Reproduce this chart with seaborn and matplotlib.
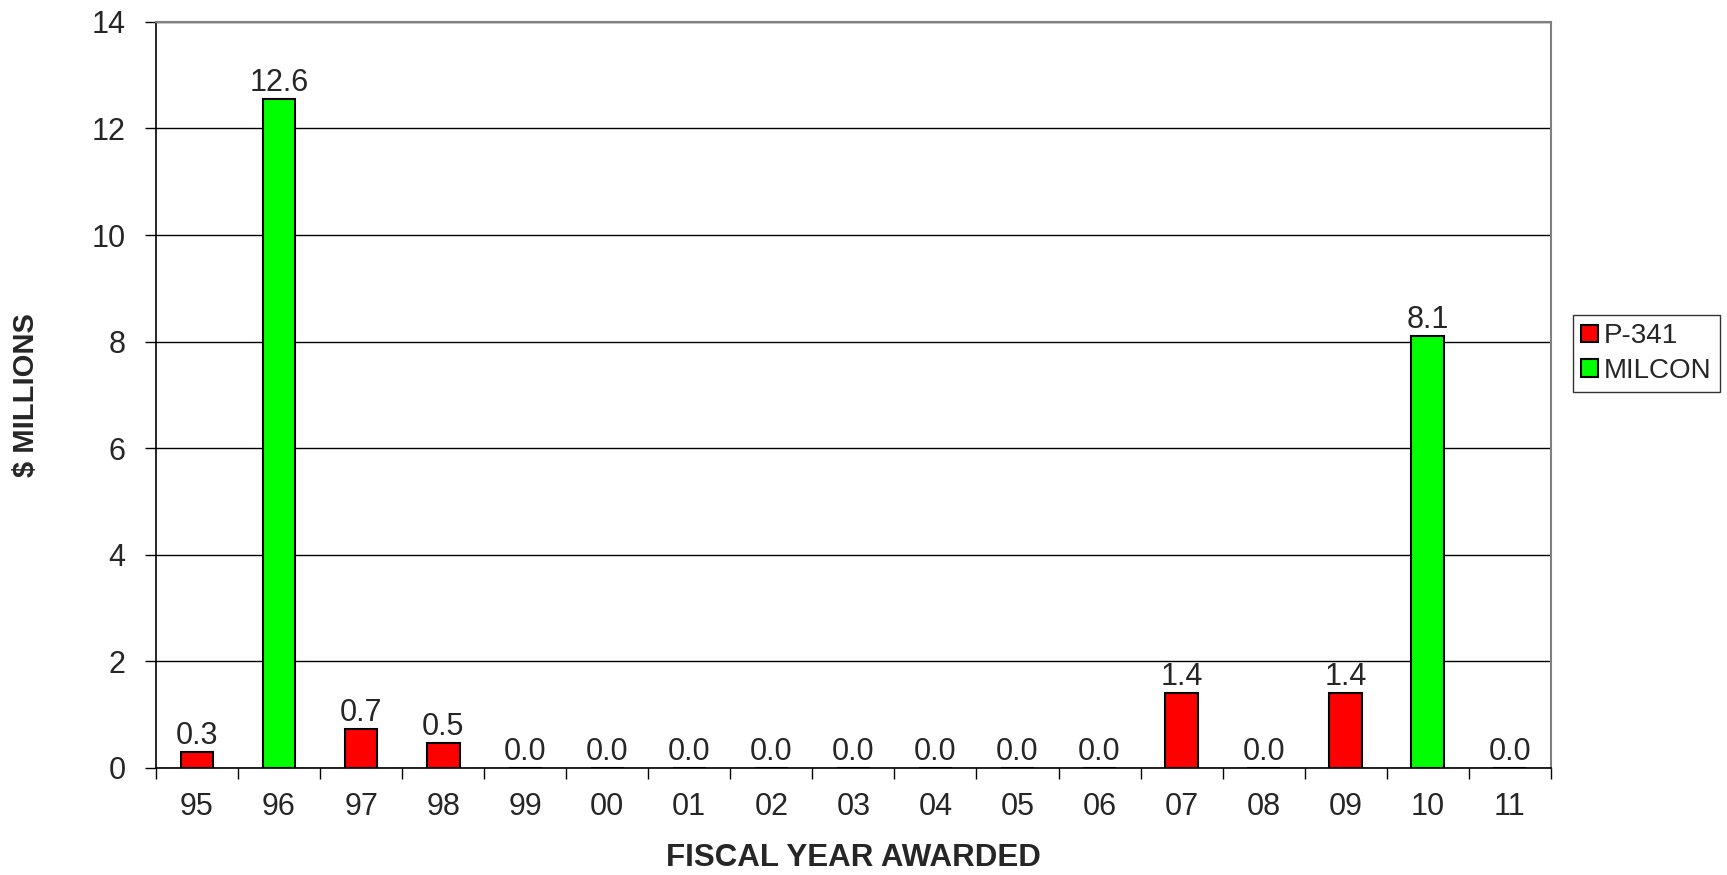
import numpy as np
import pandas as pd
import matplotlib
matplotlib.use("Agg")
import matplotlib.pyplot as plt
import seaborn as sns

years = ["95", "96", "97", "98", "99", "00", "01", "02", "03", "04",
         "05", "06", "07", "08", "09", "10", "11"]
values = [0.30, 12.55, 0.73, 0.47, 0.0, 0.0, 0.0, 0.0, 0.0, 0.0,
          0.0, 0.0, 1.40, 0.0, 1.40, 8.10, 0.0]
series = ["P-341", "MILCON", "P-341", "P-341", "P-341", "P-341", "P-341",
          "P-341", "P-341", "P-341", "P-341", "P-341", "P-341", "P-341",
          "P-341", "MILCON", "P-341"]
series_order = ["P-341", "MILCON"]
colors = {"P-341": "#FF0000", "MILCON": "#00FF00"}

df = pd.DataFrame({"year": years, "value": values, "series": series})

sns.set_style("white")
plt.rcParams["font.family"] = ["Liberation Sans", "DejaVu Sans"]

fig = plt.figure(figsize=(17.27, 8.75), dpi=100)
ax = fig.add_axes([0.0903, 0.1223, 0.898 - 0.0903, 0.975 - 0.1223])

sns.barplot(data=df, x="year", y="value", hue="series", hue_order=series_order,
            order=years, palette=colors, dodge=False, width=0.4,
            edgecolor="black", linewidth=1.5, saturation=1, ax=ax, legend=True)

for cont in ax.containers:
    ax.bar_label(cont, fmt="%.1f", fontsize=22, padding=1)

ax.set_ylim(0, 14)
ax.set_xlim(-0.5, len(years) - 0.5)
ax.set_yticks(np.arange(0, 15, 2))
ax.yaxis.grid(True, color="black", linewidth=1)
ax.set_axisbelow(True)

ax.set_xticks(np.arange(-0.5, len(years), 1), minor=True)
ax.tick_params(axis="x", which="major", length=0, labelsize=22, pad=17)
ax.tick_params(axis="x", which="minor", length=8, width=1, color="black", direction="out", bottom=True)
ax.tick_params(axis="y", which="major", length=8, width=1, color="black", direction="out",
               left=True, labelsize=22, pad=14)

for s in ["left", "bottom"]:
    ax.spines[s].set_color("black")
    ax.spines[s].set_linewidth(1.2)
for s in ["top", "right"]:
    ax.spines[s].set_color("#808080")
    ax.spines[s].set_linewidth(1.5)

ax.set_xlabel("FISCAL YEAR AWARDED", fontsize=22.5, fontweight="bold")
ax.xaxis.set_label_coords(0.5, -0.1)
ax.set_ylabel("$ MILLIONS", fontsize=21, fontweight="bold")
ax.yaxis.set_label_coords(-0.083, 0.5)

ax.get_legend().remove()
handles = [plt.Rectangle((0, 0), 1, 1, facecolor=colors[k], edgecolor="black", linewidth=1.5)
           for k in series_order]
leg = fig.legend(handles, series_order, loc="upper left",
                 bbox_to_anchor=(1573 / 1727, 1 - 315 / 875), fontsize=20,
                 frameon=True, fancybox=False, handlelength=0.6, handleheight=0.6,
                 handletextpad=0.2, borderpad=0.3, labelspacing=0.3,
                 borderaxespad=0)
leg.get_frame().set_edgecolor("black")
leg.get_frame().set_linewidth(1)

fig.savefig("out.png", dpi=100)
